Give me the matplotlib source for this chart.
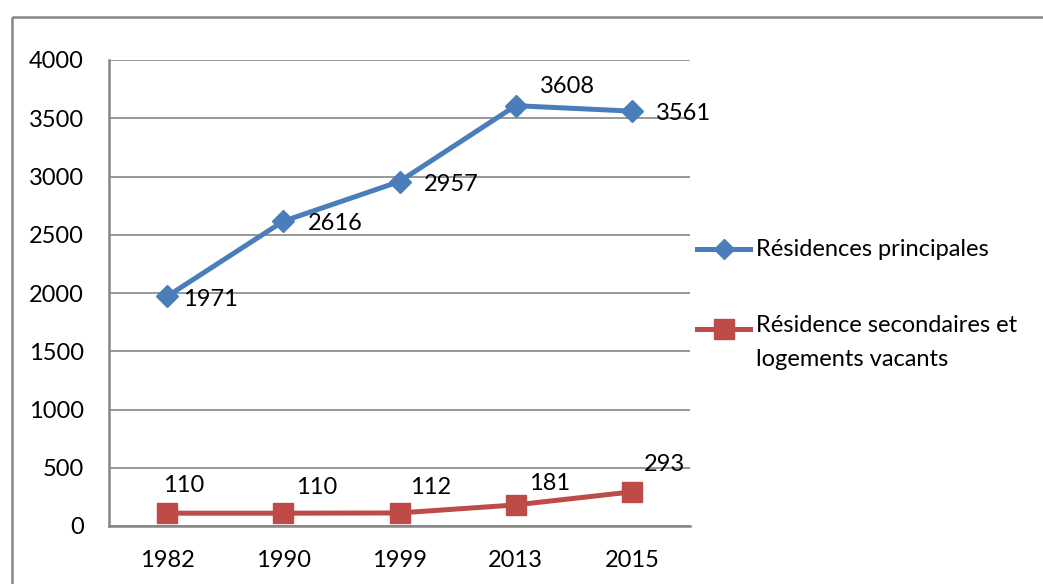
import matplotlib
matplotlib.use("Agg")
import matplotlib.pyplot as plt
from matplotlib.lines import Line2D
from matplotlib.patches import Rectangle

plt.rcParams["font.family"] = ["Lato", "DejaVu Sans"]

years = ["1982", "1990", "1999", "2013", "2015"]
principales = [1971, 2616, 2957, 3608, 3561]
secondaires = [110, 110, 112, 181, 293]

label_main = "Résidences principales"
label_sec = "Résidence secondaires et\nlogements vacants"

BLUE = "#4A7EBB"
RED = "#BE4B48"
GRAY = "#868686"
FS = 17

W, H = 1043, 584
fig = plt.figure(figsize=(W / 100, H / 100), dpi=100)

# outer chart frame (cut by image edge on right and bottom)
fig.add_artist(Rectangle((12 / W, 1 - 17 / H), 1.2, -1.2, transform=fig.transFigure,
                         fill=False, edgecolor=GRAY, linewidth=1.8))

ax = fig.add_axes([109 / W, 1 - 526 / H, (690 - 109) / W, (526 - 60) / H])

x = list(range(len(years)))
ax.plot(x, principales, color=BLUE, linewidth=3.6, marker="D", markersize=11,
        solid_joinstyle="round", zorder=3)
ax.plot(x, secondaires, color=RED, linewidth=3.6, marker="s", markersize=15,
        zorder=3)

# data labels (offsets in pixels, as Excel placed them)
off_main = [(16, -3), (25, -2), (24, -3), (24, 19), (24, -2)]
off_sec = [(-4, 28), (13, 26), (11, 25), (13, 21), (12, 27)]
for xi, v, (dx, dy) in zip(x, principales, off_main):
    ax.annotate(str(v), (xi, v), xytext=(dx, dy), textcoords="offset pixels",
                ha="left", va="center", fontsize=FS, color="black")
for xi, v, (dx, dy) in zip(x, secondaires, off_sec):
    ax.annotate(str(v), (xi, v), xytext=(dx, dy), textcoords="offset pixels",
                ha="left", va="center", fontsize=FS, color="black")

ax.set_xlim(-0.5, len(years) - 0.5)
ax.set_ylim(0, 4000)
ax.set_yticks(range(0, 4001, 500))
ax.set_xticks(x)
ax.set_xticklabels(years)
ax.tick_params(axis="both", length=0, labelsize=FS, colors="black")
ax.tick_params(axis="y", pad=18)
ax.tick_params(axis="x", pad=17)
ax.grid(axis="y", color=GRAY, linewidth=1.2)
ax.set_axisbelow(True)
for side in ["top", "right"]:
    ax.spines[side].set_visible(False)
for side in ["left", "bottom"]:
    ax.spines[side].set_color(GRAY)
    ax.spines[side].set_linewidth(1.8)

# legend drawn by hand so the marker sits on the first text line
def legend_entry(y_px, color, marker, msize, text):
    y = 1 - y_px / H
    fig.add_artist(Line2D([697 / W, 750 / W], [y, y], transform=fig.transFigure,
                          color=color, linewidth=3.6))
    fig.add_artist(Line2D([723.5 / W], [y], transform=fig.transFigure,
                          color=color, marker=marker, markersize=msize,
                          linestyle="none"))
    return fig.text(756 / W, y, text, fontsize=FS, ha="left", va="center",
                    linespacing=1.75)

legend_entry(249, BLUE, "D", 10, label_main)
t = legend_entry(329, RED, "s", 15, label_sec)
# first line of the two-line label sits on the marker
t.set_va("top")
t.set_y(1 - 315 / H)

fig.savefig("out.png", dpi=100)
